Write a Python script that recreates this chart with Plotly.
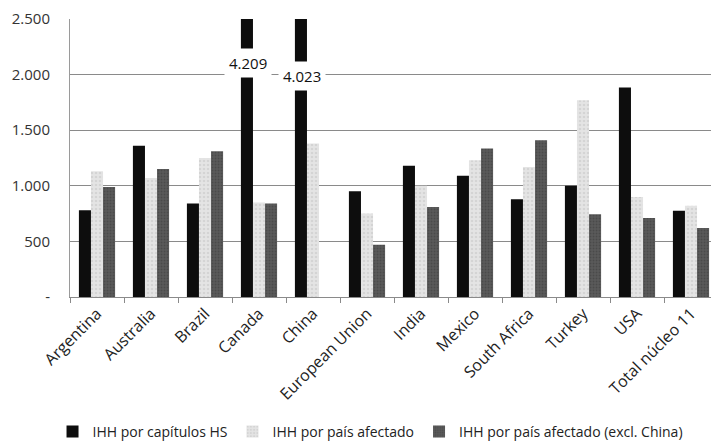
import plotly.graph_objects as go

categories = ["Argentina", "Australia", "Brazil", "Canada", "China", "European Union",
              "India", "Mexico", "South Africa", "Turkey", "USA", "Total núcleo 11"]
ihh_capitulos = [780, 1360, 840, 4209, 4023, 950, 1180, 1090, 880, 1000, 1885, 775]
ihh_pais = [1130, 1070, 1250, 850, 1380, 750, 1000, 1230, 1170, 1770, 900, 820]
ihh_pais_excl = [990, 1150, 1310, 840, None, 470, 810, 1335, 1410, 745, 710, 620]

y_ticks = [0, 500, 1000, 1500, 2000, 2500]
y_ticktext = ["-", "500", "1.000", "1.500", "2.000", "2.500"]

font = "Open Sans, Liberation Sans, sans-serif"

fig = go.Figure()
fig.add_bar(x=categories, y=ihh_capitulos, name="IHH por capítulos HS",
            marker=dict(color="#0d0d0d", line=dict(width=0)))
fig.add_bar(x=categories, y=ihh_pais, name="IHH por país afectado",
            marker=dict(color="#e4e4e4", line=dict(width=0),
                        pattern=dict(shape=".", fgcolor="#c4c4c4", size=4, solidity=0.3)))
fig.add_bar(x=categories, y=ihh_pais_excl, name="IHH por país afectado (excl. China)",
            marker=dict(color="#5a5a5a", line=dict(width=0),
                        pattern=dict(shape=".", fgcolor="#3a3a3a", size=3, solidity=0.3)))

# labels for clipped bars
for cat, val, ypos in [("Canada", ihh_capitulos[3], 2100), ("China", ihh_capitulos[4], 1990)]:
    fig.add_annotation(x=cat, y=ypos, xref="x", yref="y", xshift=-11.5,
                       text=f"{val:,}".replace(",", "."), showarrow=False,
                       font=dict(family=font, size=15, color="#111"),
                       bgcolor="white", borderpad=4)

fig.update_layout(
    width=711, height=434,
    margin=dict(l=62, r=1, t=11, b=145, autoexpand=False),
    paper_bgcolor="white", plot_bgcolor="white",
    barmode="group", bargap=0.33, bargroupgap=0,
    font=dict(family=font, size=12, color="#222"),
    legend=dict(orientation="h", x=0.463, xanchor="center", y=-0.485, yanchor="middle",
                font=dict(size=14, color="#222"), itemwidth=30,
                traceorder="normal"),
    showlegend=True,
)
fig.update_yaxes(range=[0, 2500], tickvals=y_ticks, ticktext=y_ticktext,
                 showgrid=True, gridcolor="#8a8a8a", gridwidth=1,
                 showline=True, linecolor="#9a9a9a", zeroline=False,
                 automargin=False, ticklabelstandoff=16, ticklabeloverflow="allow",
                 tickfont=dict(size=15, color="#333"))
fig.update_xaxes(tickangle=-45, showline=True, linecolor="#8a8a8a",
                 ticks="outside", tickson="boundaries", ticklen=5, tickcolor="#8a8a8a",
                 automargin=False,
                 tickfont=dict(size=16, color="#222"))

fig.write_html("out.html")
